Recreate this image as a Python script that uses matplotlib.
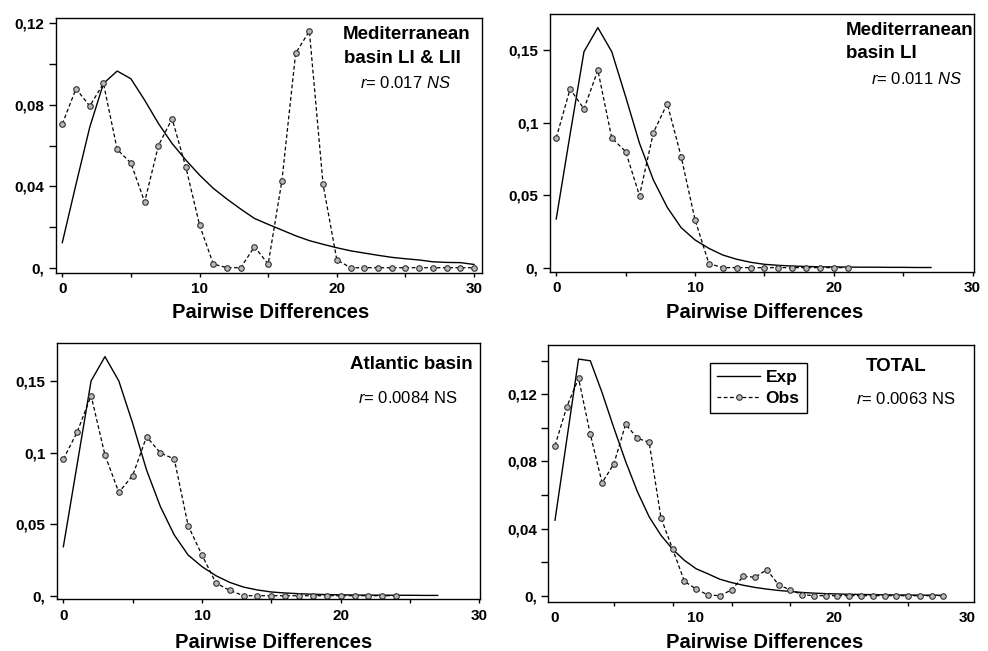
import numpy as np
import matplotlib
matplotlib.use("Agg")
import matplotlib.pyplot as plt

plt.rcParams['font.family'] = ['Liberation Sans', 'DejaVu Sans']
plt.rcParams['mathtext.fontset'] = 'custom'
plt.rcParams['mathtext.rm'] = 'Liberation Sans'
plt.rcParams['mathtext.it'] = 'Liberation Sans:italic'

# ---- data ----
# Mediterranean basin LI & LII
obs_med = [0.0706, 0.0879, 0.0794, 0.0905, 0.0581, 0.0514, 0.0323, 0.0599, 0.0732, 0.0494,
           0.0210, 0.0018, 0.0, 0.0, 0.0103, 0.0018, 0.0427, 0.1053, 0.1162, 0.0409,
           0.0039, 0.0, 0.0, 0.0, 0.0, 0.0, 0.0, 0.0, 0.0, 0.0, 0.0]
exp_med = [0.0123, 0.041, 0.069, 0.0905, 0.0966, 0.0928, 0.0823, 0.0709, 0.061, 0.0529,
           0.0455, 0.039, 0.0337, 0.0288, 0.0242, 0.0213, 0.0185, 0.0157, 0.0133, 0.0115,
           0.0098, 0.0083, 0.0072, 0.0061, 0.0051, 0.0044, 0.0038, 0.0029, 0.0026, 0.0025, 0.0016]

# Mediterranean basin LI
obs_li = [0.0895, 0.1233, 0.1095, 0.1362, 0.0895, 0.0801, 0.0497, 0.0932, 0.1132, 0.0766,
          0.0331, 0.0028, 0.0, 0.0, 0.0, 0.0, 0.0, 0.0, 0.0, 0.0, 0.0, 0.0]
exp_li = [0.0336, 0.092, 0.149, 0.1656, 0.149, 0.118, 0.0858, 0.0605, 0.0416, 0.0276,
          0.0191, 0.0133, 0.0087, 0.0058, 0.0037, 0.0023, 0.0016, 0.0011, 0.0008, 0.0006,
          0.0005, 0.0004, 0.0003, 0.0003, 0.0002, 0.0002, 0.0001, 0.0001]

# Atlantic basin
obs_atl = [0.0953, 0.1144, 0.1398, 0.0983, 0.0722, 0.0839, 0.1111, 0.0997, 0.0955, 0.0489,
           0.0284, 0.0089, 0.0037, 0.0, 0.0, 0.0, 0.0, 0.0, 0.0, 0.0, 0.0, 0.0, 0.0, 0.0, 0.0]
exp_atl = [0.0342, 0.092, 0.150, 0.167, 0.150, 0.1204, 0.0878, 0.0622, 0.0424, 0.0284,
           0.0203, 0.014, 0.0093, 0.006, 0.004, 0.0026, 0.0019, 0.0014, 0.001, 0.0008,
           0.0006, 0.0005, 0.0004, 0.0004, 0.0003, 0.0003, 0.0002, 0.0002]

# TOTAL
obs_tot = [0.0894, 0.1125, 0.1295, 0.0962, 0.0673, 0.0785, 0.1022, 0.0938, 0.0914, 0.0465,
           0.0276, 0.0085, 0.0039, 0.0004, 0.0, 0.0034, 0.0115, 0.0110, 0.0155, 0.0064,
           0.0034, 0.0006, 0.0, 0.0, 0.0, 0.0, 0.0, 0.0, 0.0, 0.0, 0.0, 0.0, 0.0, 0.0]
exp_tot = [0.045, 0.093, 0.141, 0.140, 0.121, 0.100, 0.080, 0.062, 0.047, 0.036,
           0.0276, 0.021, 0.016, 0.013, 0.0098, 0.0078, 0.0062, 0.0049, 0.0039, 0.0031,
           0.0025, 0.0019, 0.0015, 0.0012, 0.001, 0.0008, 0.0007, 0.0006, 0.0005, 0.0004,
           0.0004, 0.0003, 0.0003, 0.0002]

x_labels = ["0", "10", "20", "30"]
tot_label_pos = [0, 11.9, 23.7, 35]

W, H = 988, 651
fig = plt.figure(figsize=(W / 100, H / 100), dpi=100)


def px_axes(left, top, right, bottom):
    return fig.add_axes([left / W, 1 - bottom / H, (right - left) / W, (bottom - top) / H])


def style(ax):
    for s in ax.spines.values():
        s.set_linewidth(1.0)
        s.set_color('black')
    ax.tick_params(axis='both', which='both', direction='out', colors='black',
                   width=1.0, labelsize=11)
    ax.tick_params(axis='x', which='both', length=3, pad=4)
    ax.tick_params(axis='y', which='both', length=5, pad=3)
    for lab in ax.get_xticklabels() + ax.get_yticklabels():
        lab.set_fontweight('bold')


def draw(ax, obs, exp):
    h1, = ax.plot(np.arange(len(exp)), exp, color='black', lw=1.0, label='Exp')
    h2, = ax.plot(np.arange(len(obs)), obs, color='black', lw=0.9, ls=(0, (3, 2)),
                  marker='o', markersize=4, mfc='#b8b8b8', mec='#303030', mew=0.8,
                  label='Obs')
    return h1, h2


def fmt(v):
    s = ('%g' % v).replace('.', ',')
    return '0,' if v == 0 else s


# panel 1
ax1 = px_axes(55.7, 18.3, 482.3, 272.7)
draw(ax1, obs_med, exp_med)
ax1.set_xlim(-0.48, 30.6)
ax1.set_ylim(-0.00245, 0.1225)
ax1.set_xticks(np.arange(0, 31, 5))
ax1.set_xticklabels(["0", "", "10", "", "20", "", "30"])
ax1.set_yticks(np.arange(0, 0.121, 0.02))
ax1.set_yticklabels([fmt(v) if i % 2 == 0 else '' for i, v in enumerate([0, 0.02, 0.04, 0.06, 0.08, 0.10, 0.12])])
style(ax1)

# panel 2
ax2 = px_axes(549.7, 14, 974, 271.7)
draw(ax2, obs_li, exp_li)
ax2.set_xlim(-0.47, 30.1)
ax2.set_ylim(-0.0028, 0.175)
ax2.set_xticks(np.arange(0, 31, 5))
ax2.set_xticklabels(["0", "", "10", "", "20", "", "30"])
ax2.set_yticks([0, 0.05, 0.1, 0.15])
ax2.set_yticklabels([fmt(v) for v in [0, 0.05, 0.1, 0.15]])
style(ax2)

# panel 3
ax3 = px_axes(56.7, 343.3, 480, 599)
draw(ax3, obs_atl, exp_atl)
ax3.set_xlim(-0.48, 30.05)
ax3.set_ylim(-0.0023, 0.1763)
ax3.set_xticks(np.arange(0, 31, 5))
ax3.set_xticklabels(["0", "", "10", "", "20", "", "30"])
ax3.set_yticks([0, 0.05, 0.1, 0.15])
ax3.set_yticklabels([fmt(v) for v in [0, 0.05, 0.1, 0.15]])
style(ax3)

# panel 4
ax4 = px_axes(548.3, 345, 974, 601.7)
h_exp, h_obs = draw(ax4, obs_tot, exp_tot)
ax4.set_xlim(-0.57, 35.6)
ax4.set_ylim(-0.0036, 0.1494)
ax4.set_xticks(np.arange(0, 36, 5), minor=True)
ax4.set_xticks(tot_label_pos)
ax4.set_xticklabels(x_labels)
ax4.set_yticks(np.arange(0, 0.141, 0.02))
ax4.set_yticklabels([fmt(v) if i % 2 == 0 else '' for i, v in enumerate([0, 0.02, 0.04, 0.06, 0.08, 0.10, 0.12, 0.14])])
style(ax4)
ax4.tick_params(axis='x', which='major', length=0, pad=7)
leg = ax4.legend(handles=[h_exp, h_obs], loc='upper left', bbox_to_anchor=(0.38, 0.929),
                 borderaxespad=0, fancybox=False, framealpha=1, edgecolor='black',
                 handlelength=2.5, handletextpad=0.3, borderpad=0.4, labelspacing=0.3,
                 prop={'weight': 'bold', 'size': 12.5}, numpoints=1)
leg.get_frame().set_linewidth(1.0)

# x axis titles
for xc, yc in [(271, 313), (765, 313), (274, 642), (765, 643)]:
    fig.text(xc / W, 1 - yc / H, "Pairwise Differences", ha='center', va='center',
             fontsize=14.5, fontweight='bold')

# panel annotations
def ftxt(x, y, s, **kw):
    fig.text(x / W, 1 - y / H, s, va='baseline', **kw)

ftxt(343, 39.3, "Mediterranean", fontsize=13.5, fontweight='bold')
ftxt(344, 62.7, "basin LI & LII", fontsize=13.5, fontweight='bold')
ftxt(360, 88.3, r"$\mathit{r}$= 0.017 $\mathit{NS}$", fontsize=12)

ftxt(846, 35, "Mediterranean", fontsize=13.5, fontweight='bold')
ftxt(846, 58.3, "basin LI", fontsize=13.5, fontweight='bold')
ftxt(871, 84, r"$\mathit{r}$= 0.011 $\mathit{NS}$", fontsize=12)

ftxt(350, 369, "Atlantic basin", fontsize=13.5, fontweight='bold')
ftxt(358, 403.3, r"$\mathit{r}$= 0.0084 NS", fontsize=12)

ftxt(866, 370.7, "TOTAL", fontsize=13.5, fontweight='bold')
ftxt(856, 404, r"$\mathit{r}$= 0.0063 NS", fontsize=12)

fig.savefig("out.png", dpi=100)
